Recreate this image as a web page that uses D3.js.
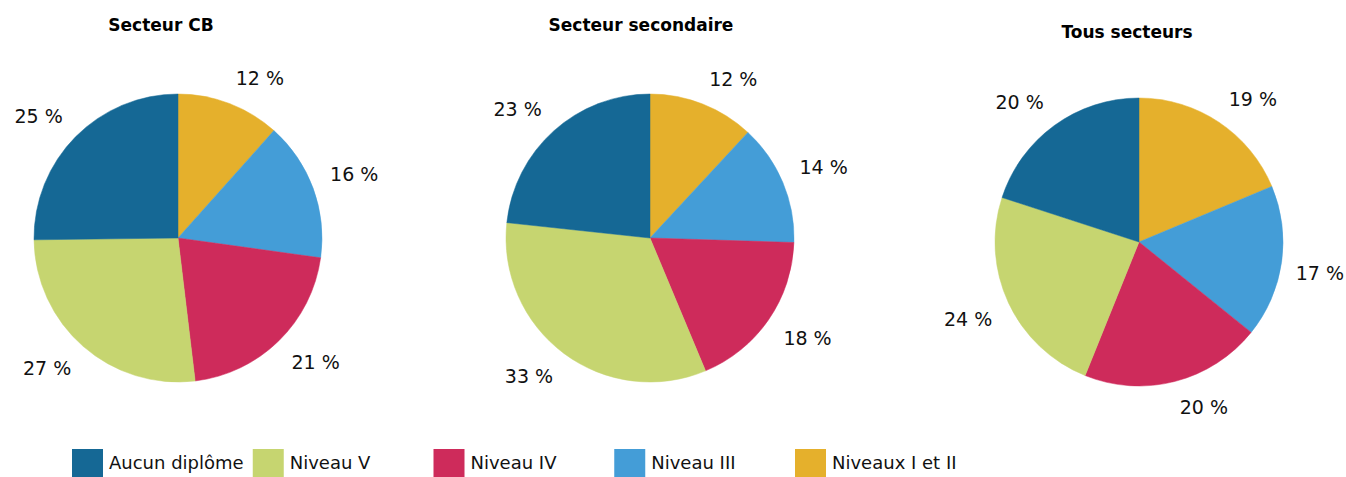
<!DOCTYPE html>
<html><head><meta charset="utf-8">
<script src="https://cdn.jsdelivr.net/npm/d3@7"></script>
<style>body{margin:0;background:#fff}svg{display:block}</style>
</head><body>
<svg id="c" width="1346" height="477"></svg>
<script>
// Data
const categories = ["Niveaux I et II", "Niveau III", "Niveau IV", "Niveau V", "Aucun diplôme"];
const legendOrder = ["Aucun diplôme", "Niveau V", "Niveau IV", "Niveau III", "Niveaux I et II"];
const panelTitles = ["Secteur CB", "Secteur secondaire", "Tous secteurs"];
const valuesCB = [11.6, 15.6, 20.9, 26.7, 25.2];
const valuesSecondaire = [11.9, 13.6, 18.2, 33.0, 23.3];
const valuesTous = [18.7, 17.1, 20.3, 23.9, 20.0];
const labelsCB = ["12 %", "16 %", "21 %", "27 %", "25 %"];
const labelsSecondaire = ["12 %", "14 %", "18 %", "33 %", "23 %"];
const labelsTous = ["19 %", "17 %", "20 %", "24 %", "20 %"];
const colors = ["#e5b02c", "#449dd7", "#ce2b5b", "#c6d570", "#156895"];

const series = [valuesCB, valuesSecondaire, valuesTous];
const labels = [labelsCB, labelsSecondaire, labelsTous];

// Layout
const W = 1346;
const layout = [
  {cx: 178, cy: 238, tx: 161, ty: 31},
  {cx: 650, cy: 238, tx: 641, ty: 31},
  {cx: 1139, cy: 242, tx: 1127, ty: 38}
];
const R = 144, labelR = 162, halfH = 8.5;
const svg = d3.select("#c");
const color = d3.scaleOrdinal().domain(categories).range(colors);
const pie = d3.pie().sort(null).value(d => d.v);
const arc = d3.arc().innerRadius(0).outerRadius(R);
const labelArc = d3.arc().innerRadius(labelR).outerRadius(labelR);

series.forEach((vals, i) => {
  const L = layout[i];
  const data = categories.map((c, j) => ({c, v: vals[j], lab: labels[i][j]}));
  const g = svg.append("g").attr("transform", `translate(${L.cx},${L.cy})`);
  const arcs = pie(data);
  g.selectAll("path").data(arcs).join("path")
    .attr("d", arc).attr("fill", d => color(d.data.c))
    .attr("stroke", d => color(d.data.c)).attr("stroke-width", 0.5);
  g.selectAll("text").data(arcs).join("text")
    .attr("dy", "0.36em")
    .attr("text-anchor", "middle")
    .attr("font-family", "DejaVu Sans, Verdana, sans-serif")
    .attr("font-size", 19).attr("fill", "#111")
    .text(d => d.data.lab)
    .each(function(d) {
      const p = labelArc.centroid(d);
      const w = this.getComputedTextLength();
      let x = p[0] + Math.sign(p[0]) * w / 2;
      x = Math.min(x, W - L.cx - w / 2 - 2);
      const y = p[1] + Math.sign(p[1]) * halfH;
      d3.select(this).attr("x", x).attr("y", y);
    });
  svg.append("text").attr("x", L.tx).attr("y", L.ty)
    .attr("text-anchor", "middle")
    .attr("font-family", "DejaVu Sans, Verdana, sans-serif")
    .attr("font-weight", "bold").attr("font-size", 17).attr("fill", "#000")
    .text(panelTitles[i]);
});

// Legend
const lx = d3.scalePoint().domain(legendOrder).range([72, 795]);
const lg = svg.append("g").selectAll("g").data(legendOrder).join("g")
  .attr("transform", d => `translate(${lx(d)},449)`);
lg.append("rect").attr("width", 31).attr("height", 31).attr("fill", d => color(d));
lg.append("text").attr("x", 37).attr("y", 20)
  .attr("font-family", "DejaVu Sans, Verdana, sans-serif")
  .attr("font-size", 18).attr("fill", "#111").text(d => d);
</script>
</body></html>
